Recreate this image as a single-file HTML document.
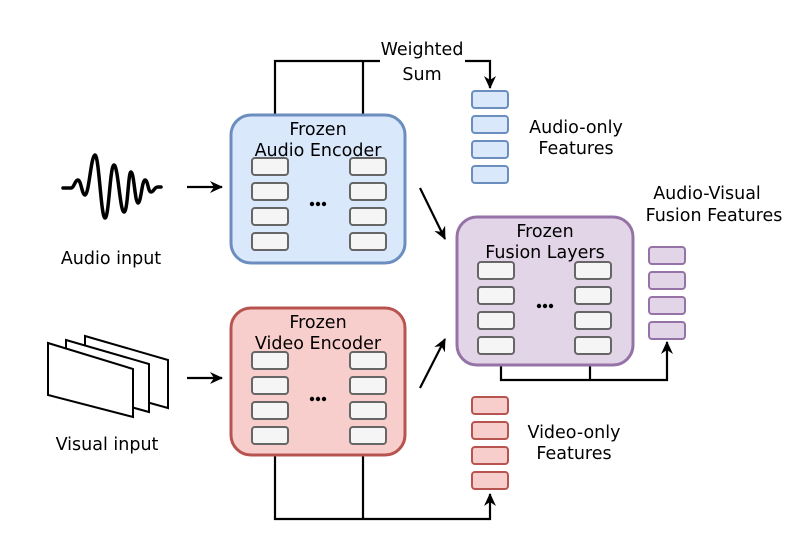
<!DOCTYPE html>
<html><head><meta charset="utf-8"><style>
html,body{margin:0;padding:0;background:#fff;}
svg text{font-family:"DejaVu Sans","Liberation Sans",sans-serif;font-size:17.5px;fill:#000;text-anchor:middle;}
</style></head><body>
<svg width="808" height="544" viewBox="0 0 808 544" xmlns="http://www.w3.org/2000/svg">
<defs>
<marker id="ah" markerWidth="14" markerHeight="14" refX="12" refY="7" orient="auto" markerUnits="userSpaceOnUse">
<path d="M0,1 L13,7 L0,13 L4,7 Z" fill="#000"/></marker>
<g id="blk"><rect x="0" y="0" width="36" height="17" rx="3" fill="#f5f5f5" stroke="#666" stroke-width="2"/></g>
</defs>

<path d="M465,61 H490 V88" fill="none" stroke="#000" stroke-width="2.2" marker-end="url(#ah)"/>
<path d="M275,115 V61 H380 M363,61 V115" fill="none" stroke="#000" stroke-width="2.2"/>
<text x="422" y="55">Weighted</text>
<text x="422" y="80">Sum</text>

<path d="M275,455 V519 H490 V494" fill="none" stroke="#000" stroke-width="2.2" marker-end="url(#ah)"/>
<path d="M363,455 V519" fill="none" stroke="#000" stroke-width="2.2"/>

<path d="M501,365 V380 H667 V342" fill="none" stroke="#000" stroke-width="2.2" marker-end="url(#ah)"/>
<path d="M590,365 V380" fill="none" stroke="#000" stroke-width="2.2"/>

<path d="M187,187 H222" stroke="#000" stroke-width="2.2" marker-end="url(#ah)"/>
<path d="M187,378 H222" stroke="#000" stroke-width="2.2" marker-end="url(#ah)"/>
<path d="M420,188 L445,239" stroke="#000" stroke-width="2.2" marker-end="url(#ah)"/>
<path d="M420,388 L445,339" stroke="#000" stroke-width="2.2" marker-end="url(#ah)"/>

<rect x="231" y="115" width="174" height="148" rx="20" fill="#dae8fc" stroke="#6c8ebf" stroke-width="3"/>
<text x="318" y="135">Frozen</text>
<text x="318" y="156">Audio Encoder</text>
<use href="#blk" x="252" y="158"/><use href="#blk" x="252" y="183"/><use href="#blk" x="252" y="208"/><use href="#blk" x="252" y="233"/>
<use href="#blk" x="350" y="158"/><use href="#blk" x="350" y="183"/><use href="#blk" x="350" y="208"/><use href="#blk" x="350" y="233"/>
<g fill="#000"><circle cx="312" cy="204" r="2.2"/><circle cx="318" cy="204" r="2.2"/><circle cx="324" cy="204" r="2.2"/></g>

<rect x="231" y="308" width="174" height="147" rx="20" fill="#f8cecc" stroke="#b85450" stroke-width="3"/>
<text x="318" y="328">Frozen</text>
<text x="318" y="349">Video Encoder</text>
<use href="#blk" x="252" y="352"/><use href="#blk" x="252" y="377"/><use href="#blk" x="252" y="402"/><use href="#blk" x="252" y="427"/>
<use href="#blk" x="350" y="352"/><use href="#blk" x="350" y="377"/><use href="#blk" x="350" y="402"/><use href="#blk" x="350" y="427"/>
<g fill="#000"><circle cx="312" cy="399" r="2.2"/><circle cx="318" cy="399" r="2.2"/><circle cx="324" cy="399" r="2.2"/></g>

<rect x="457" y="217" width="176" height="148" rx="20" fill="#e1d5e7" stroke="#9673a6" stroke-width="3"/>
<text x="545" y="237">Frozen</text>
<text x="545" y="258">Fusion Layers</text>
<use href="#blk" x="478" y="262"/><use href="#blk" x="478" y="287"/><use href="#blk" x="478" y="312"/><use href="#blk" x="478" y="337"/>
<use href="#blk" x="575" y="262"/><use href="#blk" x="575" y="287"/><use href="#blk" x="575" y="312"/><use href="#blk" x="575" y="337"/>
<g fill="#000"><circle cx="539" cy="306" r="2.2"/><circle cx="545" cy="306" r="2.2"/><circle cx="551" cy="306" r="2.2"/></g>

<g fill="#dae8fc" stroke="#6c8ebf" stroke-width="2">
<rect x="472" y="91" width="36" height="17" rx="3"/><rect x="472" y="116" width="36" height="17" rx="3"/><rect x="472" y="141" width="36" height="17" rx="3"/><rect x="472" y="166" width="36" height="17" rx="3"/></g>
<g fill="#f8cecc" stroke="#b85450" stroke-width="2">
<rect x="472" y="397" width="36" height="17" rx="3"/><rect x="472" y="422" width="36" height="17" rx="3"/><rect x="472" y="447" width="36" height="17" rx="3"/><rect x="472" y="472" width="36" height="17" rx="3"/></g>
<g fill="#e1d5e7" stroke="#9673a6" stroke-width="2">
<rect x="649" y="247" width="36" height="17" rx="3"/><rect x="649" y="272" width="36" height="17" rx="3"/><rect x="649" y="297" width="36" height="17" rx="3"/><rect x="649" y="322" width="36" height="17" rx="3"/></g>

<text x="576" y="133">Audio-only</text>
<text x="576" y="154">Features</text>
<text x="574" y="438">Video-only</text>
<text x="574" y="459">Features</text>
<text x="707" y="199">Audio-Visual</text>
<text x="714" y="221">Fusion Features</text>

<path d="M63,188 H71 C74,188 75,180 78,180 C81,180 82,195 85,195 C89,195 91,155 95,155 C99,155 101,218 105,218 C109,218 110,165 114,165 C118,165 120,212 124,212 C128,212 128,172 131,172 C134,172 135,203 138,203 C141,203 142,180 145,180 C148,180 148,192 151,192 C154,192 154,187 158,187 H161" fill="none" stroke="#000" stroke-width="3.5" stroke-linejoin="round" stroke-linecap="round"/>
<text x="111" y="264">Audio input</text>

<g fill="#fff" stroke="#000" stroke-width="2">
<polygon points="85,336 168,360 168,408 85,385"/>
<polygon points="66,340 149,364 149,412 66,389"/>
<polygon points="48,343 133,369 133,417 48,395"/>
</g>
<text x="107" y="450">Visual input</text>
</svg>
</body></html>
